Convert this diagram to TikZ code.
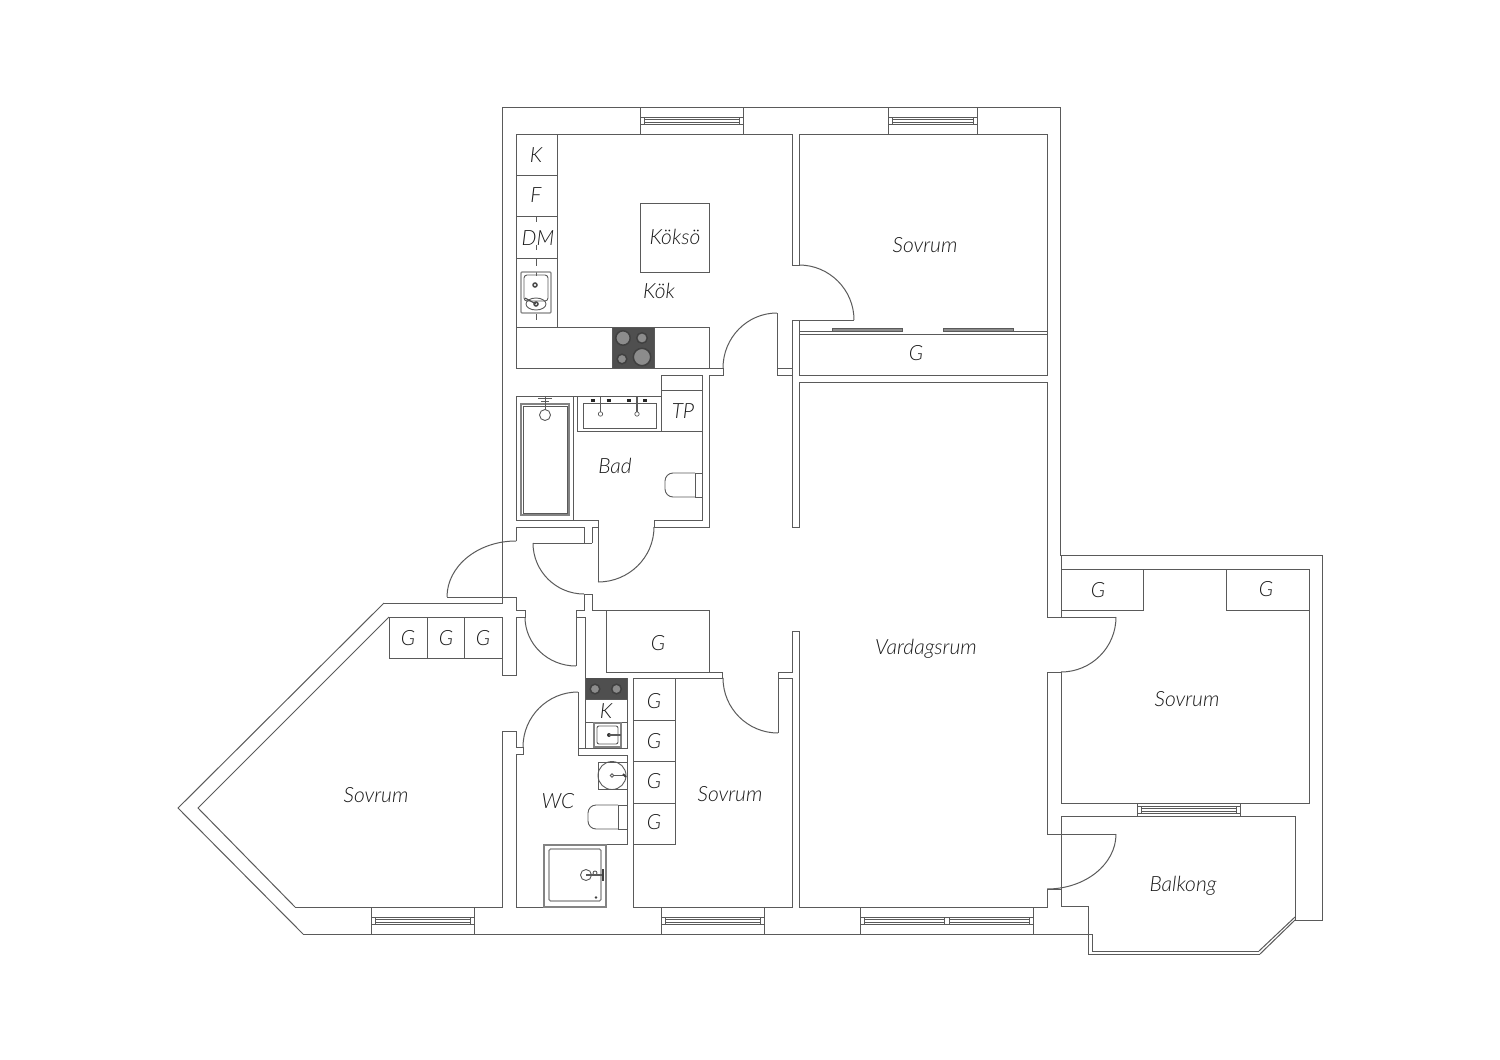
\documentclass[tikz,border=0pt]{standalone}
\usepackage{fontspec}
\setmainfont{Lato Light}
\usetikzlibrary{calc}
\definecolor{wallcol}{HTML}{5A5A5A}
\definecolor{hobcol}{HTML}{4F4F4F}
\definecolor{platecol}{HTML}{8C8C8C}
\definecolor{textcol}{HTML}{1A1A1A}

% quarter swing of a door: start, corner of the tangents, end
\newcommand{\swing}[3]{\draw[slant wall] (#1) .. controls ($(#1)!.5523!(#2)$) and ($(#3)!.5523!(#2)$) .. (#3);}

\begin{document}
\begin{tikzpicture}[
        x=1pt, y=-1pt,
        wall/.style={draw=wallcol, line width=0.9pt, line join=miter},
        slant wall/.style={draw=wallcol, line width=1pt, line join=miter},
        fixture/.style={draw=wallcol, line width=.9pt},
        thick fixture/.style={draw=wallcol!75!white, line width=1.3pt},
        label/.style={text=textcol, font=\itshape\fontsize{21}{21}\selectfont, inner sep=0pt}
    ]
    \useasboundingbox (0,0) rectangle (1500,1060);

    % outer walls
    \draw[wall] (1260,954) -- (1088,954) -- (1088,906) -- (1061,906) -- (1061,816) -- (1295,816) -- (1295,920);
    \draw[slant wall] (1295,920) -- (1260,954);
    \draw[wall] (1092,934) -- (1092,951) -- (1259,951);
    \draw[slant wall] (1259,951) -- (1295,917);
    \draw[wall] (1295,920) -- (1322,920) -- (1322,555) -- (1060,555) -- (1060,107) -- (502,107) -- (502,603) -- (384,603);
    \draw[slant wall] (384,603) -- (178,808) -- (303,934);
    \draw[wall] (303,934) -- (1092,934);

    % left bedroom
    \draw[wall] (502,617) -- (389,617);
    \draw[slant wall] (389,617) -- (198,808) -- (295,907);
    \draw[wall] (295,907) -- (502,907) -- (502,731) -- (516,731) -- (516,747) -- (523,747) -- (523,754) -- (516,754) -- (516,907) -- (606,907);
    \draw[wall] (502,617) -- (502,675) -- (516,675) -- (516,617) -- (525,617) -- (525,610) -- (516,610) -- (516,597);
    \draw[wall] (389,617) -- (389,658) -- (502,658);
    \draw[wall] (427,617) -- (427,658) (464,617) -- (464,658);

    % kitchen
    \draw[wall] (516,541) -- (516,527) -- (584,527) -- (584,543) (516,368) -- (516,134) -- (792,134) -- (792,265) -- (799,265) -- (799,134) -- (1047,134) -- (1047,375) -- (799,375) -- (799,320) -- (854,320) (799,320) -- (792,320) -- (792,368) -- (777,368) -- (777,313);
    \draw[wall] (516,368) -- (723,368) -- (723,375) -- (709,375) -- (709,527) -- (654,527) -- (654,520) -- (702,520) -- (702,375) -- (661,375) -- (661,431);
    \draw[wall] (792,368) -- (792,375) -- (777,375) -- (777,368);
    \draw[wall] (557,134) -- (557,327) (516,327) -- (709,327) -- (709,368);
    \draw[wall] (516,175) -- (557,175) (516,216) -- (557,216) (516,258) -- (557,258);
    \draw[wall] (640,203) rectangle (709,272);

    % cooktops
    \draw[draw=wallcol, fill=hobcol] (612,327) rectangle (654,368);
    \draw[draw=hobcol, fill=hobcol] (585,678) rectangle (627,699);
    \foreach \cx/\cy/\cr in {623/338/7.200, 642/338/5.300, 622/359/4.800, 642/357/8.700, 595/689/4.800, 616.500/689/4.800}
        \draw[draw=black!75, line width=1.5pt, fill=platecol] (\cx,\cy) circle (\cr);

    % kitchen sink
    \foreach \ty/\tb in {217/222, 245/250, 259/266, 272/276, 314/320}
        \draw[fixture, line width=.7pt] (536,\ty) -- (536,\tb);
    \draw[thick fixture, rounded corners=1pt] (521,272) rectangle (551,313);
    \draw[fixture, rounded corners=3pt] (524,275) rectangle (548,301);
    \draw[fixture] (536,304) ellipse (10 and 6);
    \draw[draw=black!70, line width=1.5pt] (535,285) circle (2) (536,304) circle (2);
    \draw[draw=black!70, line width=1.1pt] (525,298) -- (536,304);

    % bathroom
    \draw[wall] (516,396) -- (661,396) (516,396) -- (516,520) -- (598,520) -- (598,582);
    \draw[wall] (584,543) -- (533,543) (592,543) -- (584,543) (592,543) -- (592,527) -- (598,527);
    \draw[wall] (573,396) -- (573,520) (577.500,396) -- (577.500,431) -- (702,431);
    \draw[wall] (661,390) -- (702,390);
    \draw[thick fixture] (521,404) rectangle (569,515);
    \draw[fixture, line width=.6pt] (523,406) rectangle (567,513);
    \draw[fixture] (545,415) circle (5.500);
    \draw[fixture, line width=.9pt] (545,397) -- (545,410) (538,398) -- (552,398) (541,401) -- (549,401);
    \draw[fixture] (583,403) rectangle (656,428);
    \foreach \tx in {600.500, 637}{
        \draw[draw=black!85, line width=3pt] (\tx-10,400) -- (\tx-6,400) (\tx+6,400) -- (\tx+10,400);
        \draw[fixture, line width=1.2pt] (\tx,397) -- (\tx,412);
        \draw[fixture, line width=.7pt] (\tx,414) circle (2.200);
    }
    \draw[fixture, rounded corners=8pt] (695,473) -- (665,473) -- (665,497) -- (695,497);
    \draw[fixture] (695,473) -- (702,473) (695,497) -- (702,497) (695,473) -- (695,497);

    % hall and closets
    \draw[wall] (584,594) -- (592,594) -- (592,610) -- (709,610) (584,594) -- (584,610) -- (576,610) -- (576,666);
    \draw[wall] (525,617) -- (525,610) (576,617) -- (585,617) -- (585,748);
    \draw[wall] (606,610) -- (606,672) -- (722,672) -- (722,678) -- (633,678) -- (633,907) -- (792,907) -- (792,678) -- (778,678) -- (778,733) (709,610) -- (709,672);
    \draw[wall] (778,672) -- (792,672) -- (792,631) -- (799,631) -- (799,907) -- (1047,907) -- (1047,889) -- (1061,889);
    \draw[wall] (778,672) -- (778,678);
    \draw[wall] (792,527) -- (799,527) -- (799,382) -- (1047,382) -- (1047,617) -- (1116,617);
    \draw[wall] (792,527) -- (792,375);
    \draw[wall] (1047,672) -- (1061,672) (1047,672) -- (1047,834) -- (1116,834);
    \draw[wall] (675,678) -- (675,844) -- (633,844) (633,720) -- (675,720) (633,761) -- (675,761) (633,803) -- (675,803);

    % wardrobe doors
    \draw[wall] (799,334) -- (1047,334) (799,331) -- (832,331) (1013,331) -- (1047,331);
    \draw[fixture, fill=platecol] (832,328) rectangle (902,331);
    \draw[fixture, fill=platecol] (943,328) rectangle (1013,331);

    % wc
    \draw[wall] (578,692) -- (578,755) -- (627,755) -- (627,844) -- (544,844);
    \draw[wall] (578,748) -- (627,748) -- (627,678);
    \draw[wall] (585,722) -- (627,722) (585,699) -- (627,699);
    \draw[thick fixture] (594,723) rectangle (621,747);
    \draw[fixture, rounded corners=2pt] (597,726) rectangle (618,744);
    \fill[black!80] (609,735) circle (2);
    \draw[fixture, line width=1.2pt] (609,735) -- (621,735);
    \draw[fixture] (598,762) rectangle (627,789);
    \draw[fixture] (612,775.500) circle (14);
    \draw[fixture, line width=.9pt] (612,775.500) circle (1.800) (614,775.500) -- (625,775.500);
    \draw[draw=black!75, line width=2pt] (623,774) -- (626,777);
    \draw[fixture, rounded corners=8pt] (618,805) -- (588,805) -- (588,829) -- (618,829);
    \draw[fixture] (618,805) -- (627,805) (618,829) -- (627,829) (618,805) -- (618,829);
    \draw[thick fixture] (544,845) -- (544,907) -- (606,907) -- (606,845) -- cycle;
    \draw[thick fixture, rounded corners=1.500pt] (549,849) rectangle (601,901);
    \draw[fixture] (586,875) circle (5.500) (595,873) circle (2);
    \draw[fixture, line width=1.1pt] (586,875) -- (604,875);
    \draw[draw=black!75, line width=1.6pt] (603,869) -- (603,881);
    \fill[black!75] (596,897.500) circle (1.300);

    % right bedroom and cabinets
    \draw[wall] (1061,555) -- (1061,617) (1061,569) -- (1309,569) -- (1309,803) -- (1061,803) -- (1061,672);
    \draw[wall] (1061,610) -- (1143,610) -- (1143,569) (1226,569) -- (1226,610) -- (1309,610);

    % door swings
    \swing{854,320}{854,265}{799,265}
    \swing{723,368}{723,313}{777,313}
    \swing{654,527}{654,582}{598,582}
    \swing{533,543}{533,594}{584,594}
    \swing{447,597}{447,541}{516,541}
    \draw[wall] (447,597) -- (516,597);
    \swing{525,617}{525,666}{576,666}
    \swing{523,747}{523,692}{578,692}
    \swing{723,678}{723,733}{778,733}
    \swing{1116,617}{1116,672}{1061,672}
    \swing{1116,834}{1116,889}{1047,889}

    % windows: left, right, wall top, wall bottom, frame top
    \foreach \xa/\xb/\ya/\yb/\yc in {640/743/107/134/117, 888/977/107/134/117, 371/474/907/934/917, 661/764/907/934/917, 860/1033/907/934/917, 1137/1240/803/816/806}{
        \draw[wall] (\xa,\ya) -- (\xa,\yb) (\xb,\ya) -- (\xb,\yb);
        \draw[fixture] (\xa,\yc) rectangle (\xb,\yc+7);
        \draw[fixture, line width=.7pt] (\xa+4,\yc) -- (\xa+4,\yc+7) (\xb-4,\yc) -- (\xb-4,\yc+7) (\xa+4,\yc+2) -- (\xb-4,\yc+2) (\xa+4,\yc+5) -- (\xb-4,\yc+5);
    }
    \draw[fixture, fill=white] (944,917) rectangle (949,924);

    % labels
    \node[label] (kitchenK) at (536,155) {K};
    \node[label] (kitchenF) at (536,195) {F};
    \node[label] (kitchenDM) at (538,238) {DM};
    \node[label] (island) at (675,237) {Köksö};
    \node[label] (kitchen) at (659,291) {Kök};
    \node[label] (bedA) at (925,245) {Sovrum};
    \node[label] (closetA) at (916,353) {G};
    \node[label] (bathTP) at (683,411) {TP};
    \node[label] (bath) at (615,466) {Bad};
    \node[label] (hallG) at (658,643) {G};
    \node[label] (living) at (926,649) {Vardagsrum};
    \node[label] (bedB) at (376,795) {Sovrum};
    \node[label] (bedBa) at (408,638) {G};
    \node[label] (bedBb) at (446,638) {G};
    \node[label] (bedBc) at (483,638) {G};
    \node[label] (hallK) at (606,711) {K};
    \node[label] (wc) at (558,801) {WC};
    \node[label] (bedC) at (730,794) {Sovrum};
    \node[label] (bedCa) at (654,701) {G};
    \node[label] (bedCb) at (654,741) {G};
    \node[label] (bedCc) at (654,781) {G};
    \node[label] (bedCd) at (654,822) {G};
    \node[label] (bedD) at (1187,699) {Sovrum};
    \node[label] (bedDa) at (1098,590) {G};
    \node[label] (bedDb) at (1266,589) {G};
    \node[label] (balcony) at (1183,886) {Balkong};
\end{tikzpicture}
\end{document}
